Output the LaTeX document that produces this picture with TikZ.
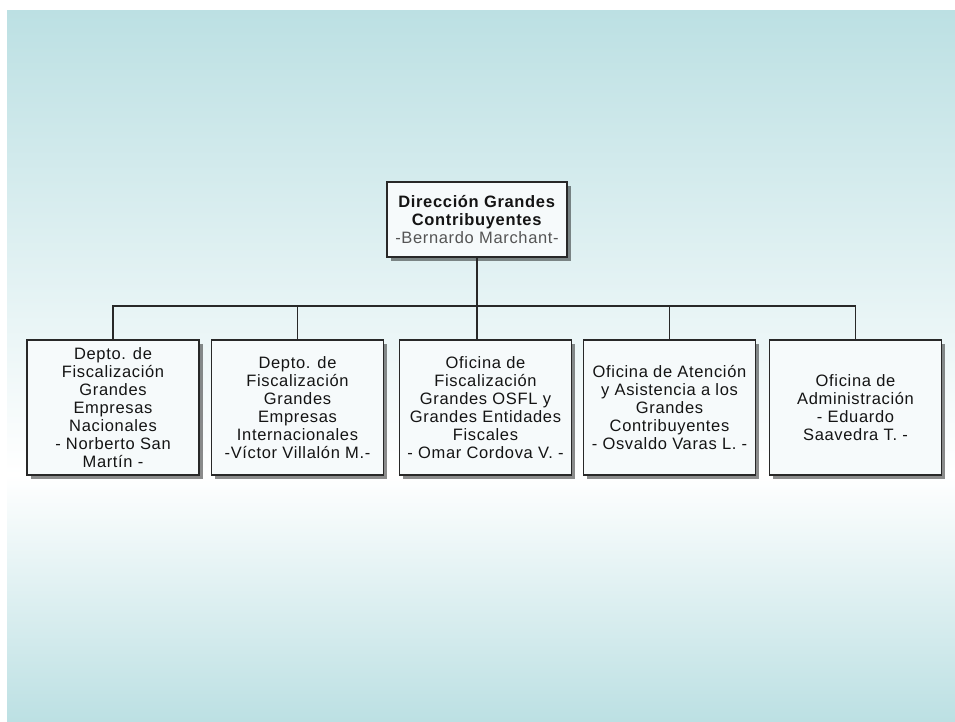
\documentclass[tikz,border=0pt]{standalone}
\usepackage{fontspec}
\setmainfont{Liberation Sans}[LetterSpace=4]
\usepackage{xcolor}
\usepackage{tikz}
\usetikzlibrary{shadows}

\definecolor{bgteal}{RGB}{188,224,227}
\definecolor{boxfill}{RGB}{246,250,251}
\definecolor{boxline}{RGB}{40,40,40}
\definecolor{nametext}{RGB}{85,85,85}

\begin{document}
\begin{tikzpicture}[x=1pt, y=-1pt,
    every node/.style={font=\fontsize{16.5}{18}\selectfont, text=black!92, align=center},
    orgbox/.style={draw=boxline, line width=1.5pt, fill=boxfill, rectangle, inner sep=2pt,
        drop shadow={shadow xshift=3.5pt, shadow yshift=-3.5pt, fill=black, opacity=0.45}},
    conn/.style={draw=boxline, line width=1.5pt}]
    \useasboundingbox (0,0) rectangle (955,721);

    % Background gradient
    \shade[top color=bgteal, bottom color=white] (7,10) rectangle (955,475);
    \shade[top color=white, bottom color=bgteal] (7,475) rectangle (955,721);

    % Head of the office
    \node[orgbox, minimum width=180, minimum height=75] (head) at (477,219.5)
        {\fontsize{16.5}{19}\selectfont\textbf{Dirección Grandes}\\\textbf{Contribuyentes}\\\textcolor{nametext}{-Bernardo Marchant-}};

    % Departments and offices in a row
    \node[orgbox, minimum width=172, minimum height=135] (d1) at (113,407.5)
        {Depto. de\\Fiscalización\\Grandes\\Empresas\\Nacionales\\- Norberto San\\Martín -};
    \node[orgbox, minimum width=172, minimum height=135] (d2) at (297.5,407.5)
        {Depto. de\\Fiscalización\\Grandes\\Empresas\\Internacionales\\-Víctor Villalón M.-};
    \node[orgbox, minimum width=172, minimum height=135] (d3) at (485.5,407.5)
        {Oficina de\\Fiscalización\\Grandes OSFL y\\Grandes Entidades\\Fiscales\\- Omar Cordova V. -};
    \node[orgbox, minimum width=172, minimum height=135] (d4) at (669.5,407.5)
        {Oficina de Atención\\y Asistencia a los\\Grandes\\Contribuyentes\\- Osvaldo Varas L. -};
    \node[orgbox, minimum width=172, minimum height=135] (d5) at (855.5,407.5)
        {Oficina de\\Administración\\- Eduardo\\Saavedra T. -};

    % Connectors
    \draw[conn] (head.south) -- ++(0,48) -| (d1.north);
    \draw[conn] (head.south) -- ++(0,48) -| (d2.north);
    \draw[conn] (head.south) -- (head.south |- d3.north);
    \draw[conn] (head.south) -- ++(0,48) -| (d4.north);
    \draw[conn] (head.south) -- ++(0,48) -| (d5.north);
\end{tikzpicture}
\end{document}
